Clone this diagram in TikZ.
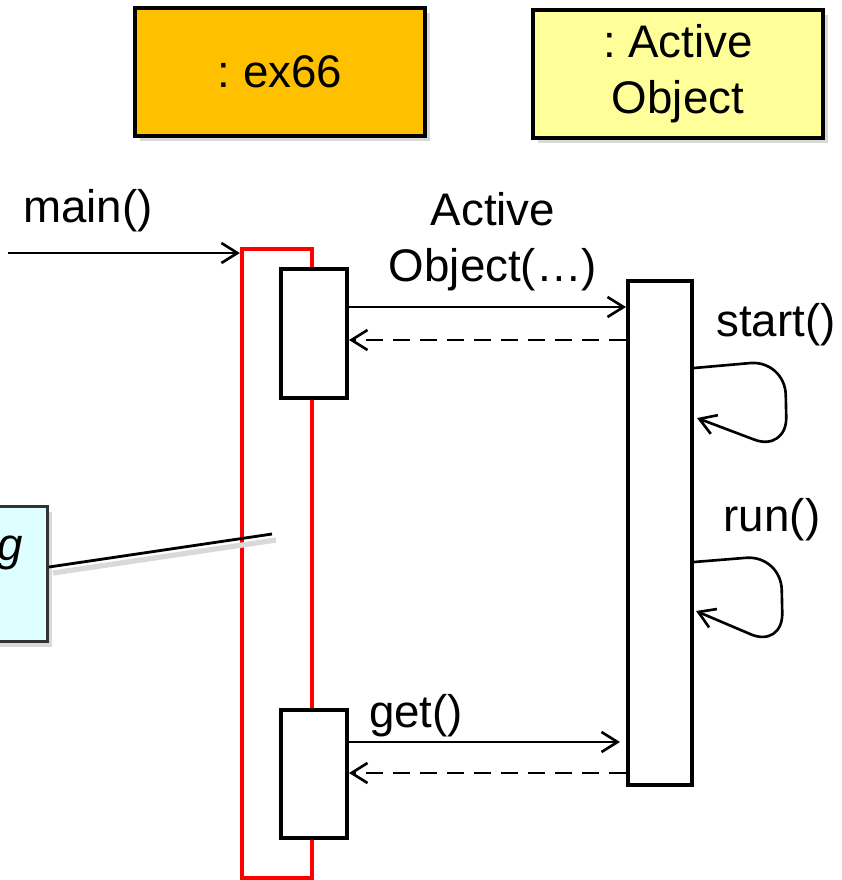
\documentclass[tikz,border=0pt]{standalone}
\usepackage{fontspec}
\setmainfont{Liberation Sans}
\usetikzlibrary{arrows.meta,shadows}

\definecolor{exorange}{HTML}{FFC000}
\definecolor{aoyellow}{HTML}{FFFF99}
\definecolor{notecyan}{HTML}{DDFFFF}

\frenchspacing
\begin{document}
\begin{tikzpicture}[x=0.02cm, y=-0.02cm,
    font=\fontsize{26}{32}\selectfont,
    head/.style={draw, line width=1.8pt, minimum width=5.8cm, minimum height=2.56cm,
        align=center, drop shadow={opacity=0.3, shadow xshift=0.1cm, shadow yshift=-0.1cm}},
    act/.style={draw, fill=white, line width=2.3pt, minimum width=1.32cm, inner sep=0pt},
    msg/.style={line width=1.5pt, -{Straight Barb[length=0.32cm, width=0.4cm, line width=1.5pt]}},
    reply/.style={msg, dash pattern=on 0.34cm off 0.2cm},
    note/.style={draw=black!80, fill=notecyan, line width=1.8pt,
        drop shadow={opacity=0.3, shadow xshift=0.1cm, shadow yshift=-0.1cm}}]
    % 画像の大きさを固定 (842 x 880 px)
    \useasboundingbox (0,0) rectangle (842,880);

    % オブジェクトの見出し
    \node[head, fill=exorange] (ex) at (280,72) {: ex66};
    \node[head, fill=aoyellow] (ao) at (678,74) {: Active\\Object};

    % 活性区間 (赤は main の区間)
    \node[draw=red, line width=2.4pt, minimum width=1.4cm, minimum height=12.58cm, inner sep=0pt] (mainact) at (277,563.5) {};
    \node[act, minimum height=2.58cm] (act1) at (314,333.5) {};
    \node[act, minimum height=2.56cm] (act2) at (314,774) {};
    \node[act, minimum width=1.28cm, minimum height=10.08cm] (aoact) at (660,533) {};

    % メッセージの高さ
    \coordinate (mainin) at (8,253);
    \coordinate (m1) at (0,307);
    \coordinate (r1) at (0,340);
    \coordinate (m2) at (0,742);
    \coordinate (r2) at (0,773);

    % main() の呼び出し
    \draw[msg] (mainin) -- (mainact.west |- mainin);
    \node (lmain) at (88,211) {main()};

    % コンストラクタ呼び出しと戻り
    \draw[msg] (act1.east |- m1) -- (aoact.west |- m1);
    \draw[reply] (aoact.west |- r1) -- (act1.east |- r1);
    \node[align=center] (lctor) at (493,242) {Active\\Object(…)};

    % get() の呼び出しと戻り
    \draw[msg] (act2.east |- m2) -- ([xshift=-0.12cm]aoact.west |- m2);
    \draw[reply] (aoact.west |- r2) -- (act2.east |- r2);
    \node (lget) at (416,716) {get()};

    % 自己呼び出し start() と run()
    \coordinate (s1) at (0,368);
    \coordinate (s2) at (0,562);
    \draw[msg, rounded corners=0.7cm] (aoact.east |- s1) -- (785,360) -- (787,452) -- ([xshift=0.06cm]aoact.east |- 0,418);
    \draw[msg, rounded corners=0.7cm] (aoact.east |- s2) -- (781,555) -- (783,648) -- ([xshift=0.04cm]aoact.east |- 0,611);
    \node (lstart) at (776,325) {start()};
    \node (lrun) at (772,520) {run()};

    % 注釈 (左端で切れている)
    \node[note, anchor=north east, minimum width=3cm, minimum height=2.7cm] (nt) at (49,505) {};
    \node[anchor=east, font=\fontsize{26}{31}\selectfont\itshape] (ntext) at (29,553) {g};
    \coordinate (ntend) at (272,534);
    \draw[black!15, line width=3pt] ([xshift=0.08cm, yshift=-0.12cm]nt.east |- 0,567) -- ([xshift=0.08cm, yshift=-0.12cm]ntend);
    \draw[line width=1.6pt] (nt.east |- 0,567) -- (ntend);
\end{tikzpicture}
\end{document}
